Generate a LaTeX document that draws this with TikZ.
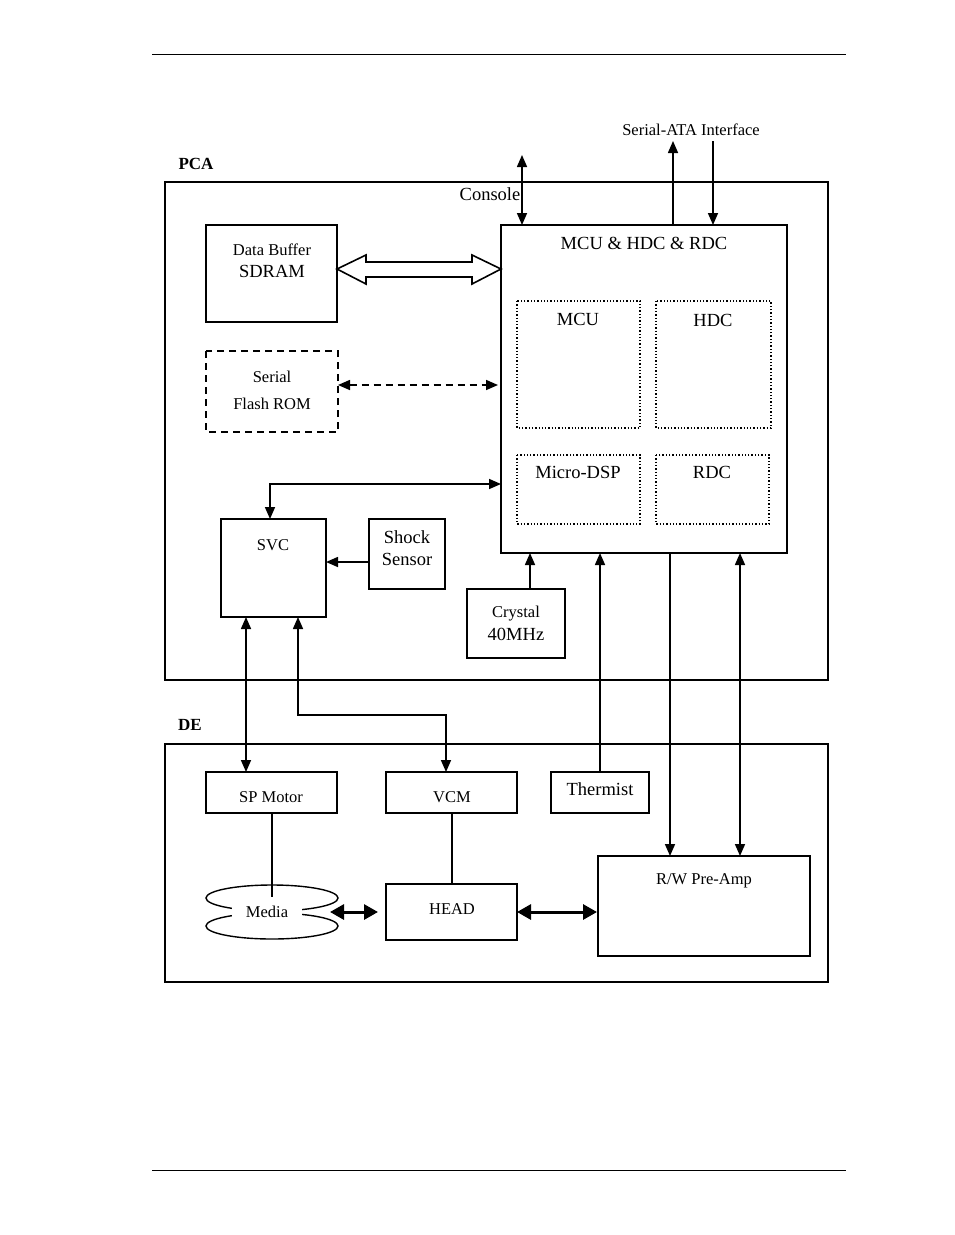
\documentclass[tikz,border=0pt]{standalone}
\usepackage{fontspec}
\setmainfont{Liberation Serif}
\usetikzlibrary{arrows.meta,shapes.arrows}
\begin{document}
\begin{tikzpicture}[x=1pt,y=-1pt,
  box/.style={draw,line width=1.3pt},
  tbox/.style={draw,line width=2.2pt},
  dbox/.style={draw,line width=1.3pt,dotted},
  sm/.style={font=\fontsize{16.5}{18}\selectfont},
  lg/.style={font=\fontsize{18.5}{20}\selectfont},
  arr/.style={line width=1.6pt,-{Triangle[length=12pt,width=10pt]}},
  barr/.style={line width=1.6pt,{Triangle[length=12pt,width=10pt]}-{Triangle[length=12pt,width=10pt]}},
  fat/.style={line width=3pt,{Triangle[length=14pt,width=15pt]}-{Triangle[length=14pt,width=15pt]}}]
\useasboundingbox (0,0) rectangle (954,1235);
\draw[line width=1pt] (152,54) -- (846,54);
\draw[line width=1pt] (152,1170) -- (846,1170);
% frames
\node[font=\bfseries\fontsize{17}{19}\selectfont] (pcal) at (196,164) {PCA};
\node[font=\bfseries\fontsize{17}{19}\selectfont] (del) at (190,725) {DE};
\draw[line width=2.6pt] (165,182) rectangle (828,680);
\draw[line width=1.8pt] (165,744) rectangle (828,982);
% boxes
\draw[box] (206,225) rectangle (337,322);
\node[sm] (db) at (272,250) {Data Buffer};
\node[lg] (sdram) at (272,271) {SDRAM};
\draw[line width=1.8pt,dash pattern=on 7pt off 5pt] (206,351) rectangle (338,432);
\node[sm] at (272,377) {Serial};
\node[sm] at (272,404) {Flash ROM};
\draw[line width=1.6pt] (501,225) rectangle (787,553);
\node[lg] (mcut) at (644,243) {MCU \& HDC \& RDC};
\draw[dbox] (517,301) rectangle (640,428); \node[lg] at (578,319) {MCU};
\draw[dbox] (656,301) rectangle (771,428); \node[lg] at (713,320) {HDC};
\draw[dbox] (517,455) rectangle (640,524); \node[lg] at (578,472) {Micro-DSP};
\draw[dbox] (656,455) rectangle (769,524); \node[lg] at (712,472) {RDC};
\draw[tbox] (221,519) rectangle (326,617); \node[sm] (svc) at (273,545) {SVC};
\draw[box] (369,519) rectangle (445,589);
\node[align=center,font=\fontsize{18.5}{22}\selectfont] (shock) at (407,548) {Shock\\Sensor};
\draw[box] (467,589) rectangle (565,658);
\node[sm] at (516,614) {Crystal};
\node[lg] at (516,634) {40MHz};
\draw[box] (551,772) rectangle (649,813); \node[lg] (th) at (600,789) {Thermist};
\draw[box] (206,772) rectangle (337,813); \node[sm] (spm) at (271,797) {SP Motor};
\draw[box] (386,772) rectangle (517,813); \node[sm] (vcm) at (452,797) {VCM};
\draw[tbox] (386,884) rectangle (517,940); \node[sm] (head) at (452,909) {HEAD};
\draw[tbox] (598,856) rectangle (810,956); \node[sm] (pre) at (704,881) {R/W Pre-Amp};
% media
\draw[line width=1.4pt] (272,898) ellipse (66 and 13);
\draw[line width=1.4pt] (272,926) ellipse (66 and 13);
\draw[line width=1.3pt] (272,813) -- (272,897);
\node[sm,fill=white,inner sep=1pt,minimum width=70pt,minimum height=11pt] (media) at (267,912) {Media};
\draw[line width=1.3pt] (452,813) -- (452,884);
% texts
\node[lg] (console) at (490,194) {Console};
\node[sm] (sata) at (691,130) {Serial-ATA Interface};
% connectors
\draw[barr] (522,155) -- (522,225);
\draw[arr] (673,225) -- (673,141);
\draw[arr] (713,141) -- (713,225);
\draw[line width=1.6pt,fill=white] (337,269) -- (366,255) -- (366,262) -- (472,262) -- (472,255) -- (501,269) -- (472,284) -- (472,277) -- (366,277) -- (366,284) -- cycle;
\draw[barr,dash pattern=on 7pt off 5pt] (338,385) -- (498,385);
\draw[barr] (270,519) -- (270,484) -- (501,484);
\draw[arr] (369,562) -- (326,562);
\draw[arr] (530,589) -- (530,553);
\draw[arr] (600,772) -- (600,553);
\draw[arr] (670,553) -- (670,856);
\draw[barr] (740,553) -- (740,856);
\draw[barr] (246,617) -- (246,772);
\draw[barr] (298,617) -- (298,715) -- (446,715) -- (446,772);
\draw[fat] (330,912) -- (378,912);
\draw[fat] (517,912) -- (597,912);
\end{tikzpicture}
\end{document}
